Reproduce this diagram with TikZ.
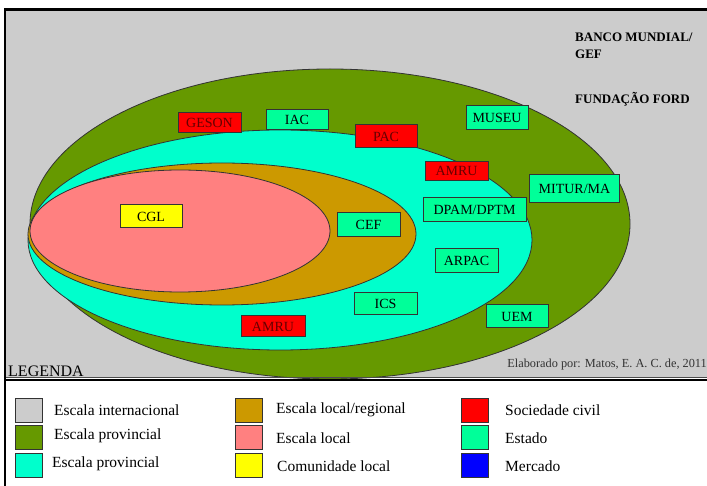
\documentclass[tikz,border=0pt]{standalone}
\usepackage{fontspec}
\setmainfont{Liberation Serif}
\definecolor{bggray}{HTML}{CCCCCC}
\definecolor{provgreen}{HTML}{669900}
\definecolor{provcyan}{HTML}{00FFCC}
\definecolor{locreg}{HTML}{CC9900}
\definecolor{locpink}{HTML}{FF8080}
\definecolor{comyel}{HTML}{FFFF00}
\definecolor{socred}{HTML}{FF0000}
\definecolor{estado}{HTML}{00FF99}
\definecolor{merc}{HTML}{0000FF}
\definecolor{darkred}{HTML}{660000}
\definecolor{edge}{HTML}{333333}
\tikzset{
  zone/.style={draw=edge, line width=0.8},
  actor/.style={draw=edge, line width=1, minimum height=20, inner sep=0, font=\rmfamily\fontsize{14}{14}\selectfont, text=black},
  civ/.style={actor, fill=socred, text=darkred},
  est/.style={actor, fill=estado},
  com/.style={actor, fill=comyel},
  swatch/.style={draw=edge, line width=0.8, minimum width=27, minimum height=24, inner sep=0},
  legtext/.style={anchor=west, font=\fontsize{15.5}{15.5}\selectfont, inner sep=0},
  toptext/.style={anchor=west, font=\bfseries\fontsize{13}{17}\selectfont, inner sep=0, align=left}
}
\begin{document}
\begin{tikzpicture}[x=1pt,y=-1pt]
\useasboundingbox (0,0) rectangle (707,486);
\fill[white] (0,0) rectangle (707,486);
\fill[bggray] (6,11) rectangle (707,378);
% zones
\draw[zone, fill=provgreen] (330,224) ellipse [x radius=300, y radius=155];
\draw[zone, fill=provcyan] (280,240) ellipse [x radius=252, y radius=110];
\draw[zone, fill=locreg] (222,234) ellipse [x radius=194, y radius=71];
\draw[zone, fill=locpink] (180,231) ellipse [x radius=150, y radius=61];
% frame
\draw[line width=0.8, black!70] (6,377) -- (707,377);
\draw[line width=1.2] (6,380) -- (707,380);
\draw[line width=3] (4,10) -- (707,10);
\draw[line width=2.2] (5,9) -- (5,486);
% actors
\node[civ, minimum width=63] (geson) at (209.5,123) {GESON};
\node[est, minimum width=62] (iac) at (297,120) {IAC};
\node[civ, minimum width=62, minimum height=23] (pac) at (386,136.5) {PAC};
\node[est, minimum width=62, minimum height=24] (museu) at (497,117.5) {MUSEU};
\node[civ, minimum width=63, minimum height=19] (amru1) at (456.5,171) {AMRU};
\node[est, minimum width=90, minimum height=28] (mitur) at (574.5,189) {MITUR/MA};
\node[est, minimum width=103, minimum height=24] (dpam) at (474.5,210) {DPAM/DPTM};
\node[com, minimum width=62, minimum height=23] (cgl) at (151,216.5) {CGL};
\node[est, minimum width=63, minimum height=24] (cef) at (368.5,225) {CEF};
\node[est, minimum width=63, minimum height=24] (arpac) at (466.5,261) {ARPAC};
\node[est, minimum width=63, minimum height=22] (ics) at (385.5,304) {ICS};
\node[civ, minimum width=64, minimum height=21] (amru2) at (273,326.5) {AMRU};
\node[est, minimum width=62, minimum height=23] (uem) at (517,316.5) {UEM};
% external actors
\node[toptext] (banco) at (575,46) {BANCO MUNDIAL/\\GEF};
\node[toptext] (ford) at (575,99) {FUNDAÇÃO FORD};
% captions
\node[anchor=west, inner sep=0, font=\fontsize{16}{16}\selectfont] (legenda) at (8,371) {LEGENDA};
\node[anchor=east, inner sep=0, font=\fontsize{12.3}{13}\selectfont, text=black!80] (autor) at (707,365) {Elaborado por: Matos, E.\ A.\ C.\ de, 2011};
% legend
\node[swatch, fill=bggray] (s1) at (28.5,410) {};
\node[legtext] at (54,410) {Escala internacional};
\node[swatch, fill=provgreen] (s2) at (28.5,437) {};
\node[legtext] at (54,436) {Escala provincial};
\node[swatch, fill=provcyan] (s3) at (28.5,465) {};
\node[legtext] at (52,464) {Escala provincial};
\node[swatch, fill=locreg] (s4) at (249,410) {};
\node[legtext] at (276,410) {Escala local/regional};
\node[swatch, fill=locpink] (s5) at (249,437) {};
\node[legtext] at (276,438) {Escala local};
\node[swatch, fill=comyel] (s6) at (249,465) {};
\node[legtext] at (277,466) {Comunidade local};
\node[swatch, fill=socred] (s7) at (475,410) {};
\node[legtext] at (505,410) {Sociedade civil};
\node[swatch, fill=estado] (s8) at (475,437) {};
\node[legtext] at (505,438) {Estado};
\node[swatch, fill=merc] (s9) at (475,465) {};
\node[legtext] at (505,466) {Mercado};
\end{tikzpicture}
\end{document}
